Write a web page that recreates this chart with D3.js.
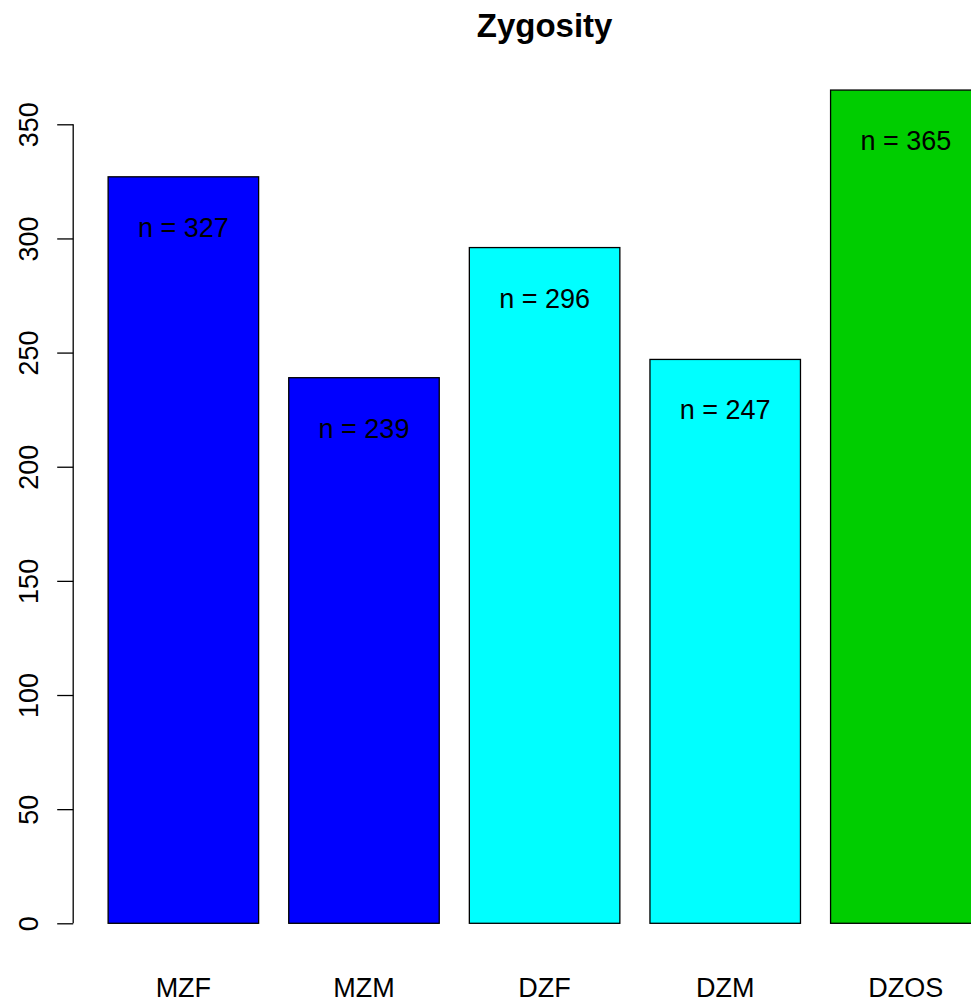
<!DOCTYPE html>
<html>
<head>
<meta charset="utf-8">
<script src="https://cdn.jsdelivr.net/npm/d3@7"></script>
<style>
html,body{margin:0;padding:0;background:#fff;overflow:hidden;}
svg{display:block;}
text{font-family:"Liberation Sans",Arial,Helvetica,sans-serif;}
</style>
</head>
<body>
<script>
const categories = ["MZF","MZM","DZF","DZM","DZOS"];
const counts = [327,239,296,247,365];
const barColors = ["#0000FF","#0000FF","#00FFFF","#00FFFF","#00CD00"];
const yTicks = [0,50,100,150,200,250,300,350];
const title = "Zygosity";

const W = 971, H = 1007;
const svg = d3.select("body").append("svg").attr("width",W).attr("height",H);

// R barplot geometry: width 1, space 0.2, usr x = [-0.032, 6.232]
const x = d3.scaleLinear().domain([-0.032, 6.232]).range([73.2, 1016]);
const y = d3.scaleLinear().domain([0, 350]).range([923.3, 124.3]);

const data = categories.map((c,i)=>({cat:c, value:counts[i], color:barColors[i], left:0.2+1.2*i}));

// bars
svg.append("g").selectAll("rect").data(data).join("rect")
  .attr("x", d=>x(d.left))
  .attr("width", d=>x(d.left+1)-x(d.left))
  .attr("y", d=>y(d.value))
  .attr("height", d=>y(0)-y(d.value))
  .attr("fill", d=>d.color)
  .attr("stroke","#000")
  .attr("stroke-width",1.3);

// n labels
svg.append("g").selectAll("text").data(data).join("text")
  .attr("x", d=>x(d.left+0.5))
  .attr("y", d=>y(d.value)+60)
  .attr("text-anchor","middle")
  .attr("font-size",27)
  .attr("fill","#000")
  .text(d=>"n = "+d.value);

// category labels
svg.append("g").selectAll("text").data(data).join("text")
  .attr("x", d=>x(d.left+0.5))
  .attr("y", 996.5)
  .attr("text-anchor","middle")
  .attr("font-size",27)
  .attr("fill","#000")
  .text(d=>d.cat);

// y axis
const axisX = x(-0.032);
const ax = svg.append("g").attr("transform",`translate(${axisX},0)`)
  .call(d3.axisLeft(y).tickValues(yTicks).tickSize(16).tickPadding(0).tickFormat(d3.format("d")));
ax.select(".domain").attr("d", `M0,${y(0)}V${y(350)}`).attr("stroke","#000").attr("stroke-width",1.3);
ax.selectAll(".tick line").attr("stroke","#000").attr("stroke-width",1.3);
ax.selectAll(".tick text")
  .attr("font-size",27)
  .attr("fill","#000")
  .attr("text-anchor","middle")
  .attr("x",null).attr("dy",null)
  .attr("transform","translate(-35,0) rotate(-90)")
  .attr("y",0);

// title
svg.append("text")
  .attr("x",(x(-0.032)+x(6.232))/2)
  .attr("y",36.5)
  .attr("text-anchor","middle")
  .attr("font-size",33)
  .attr("font-weight","bold")
  .attr("fill","#000")
  .text(title);
</script>
</body>
</html>
